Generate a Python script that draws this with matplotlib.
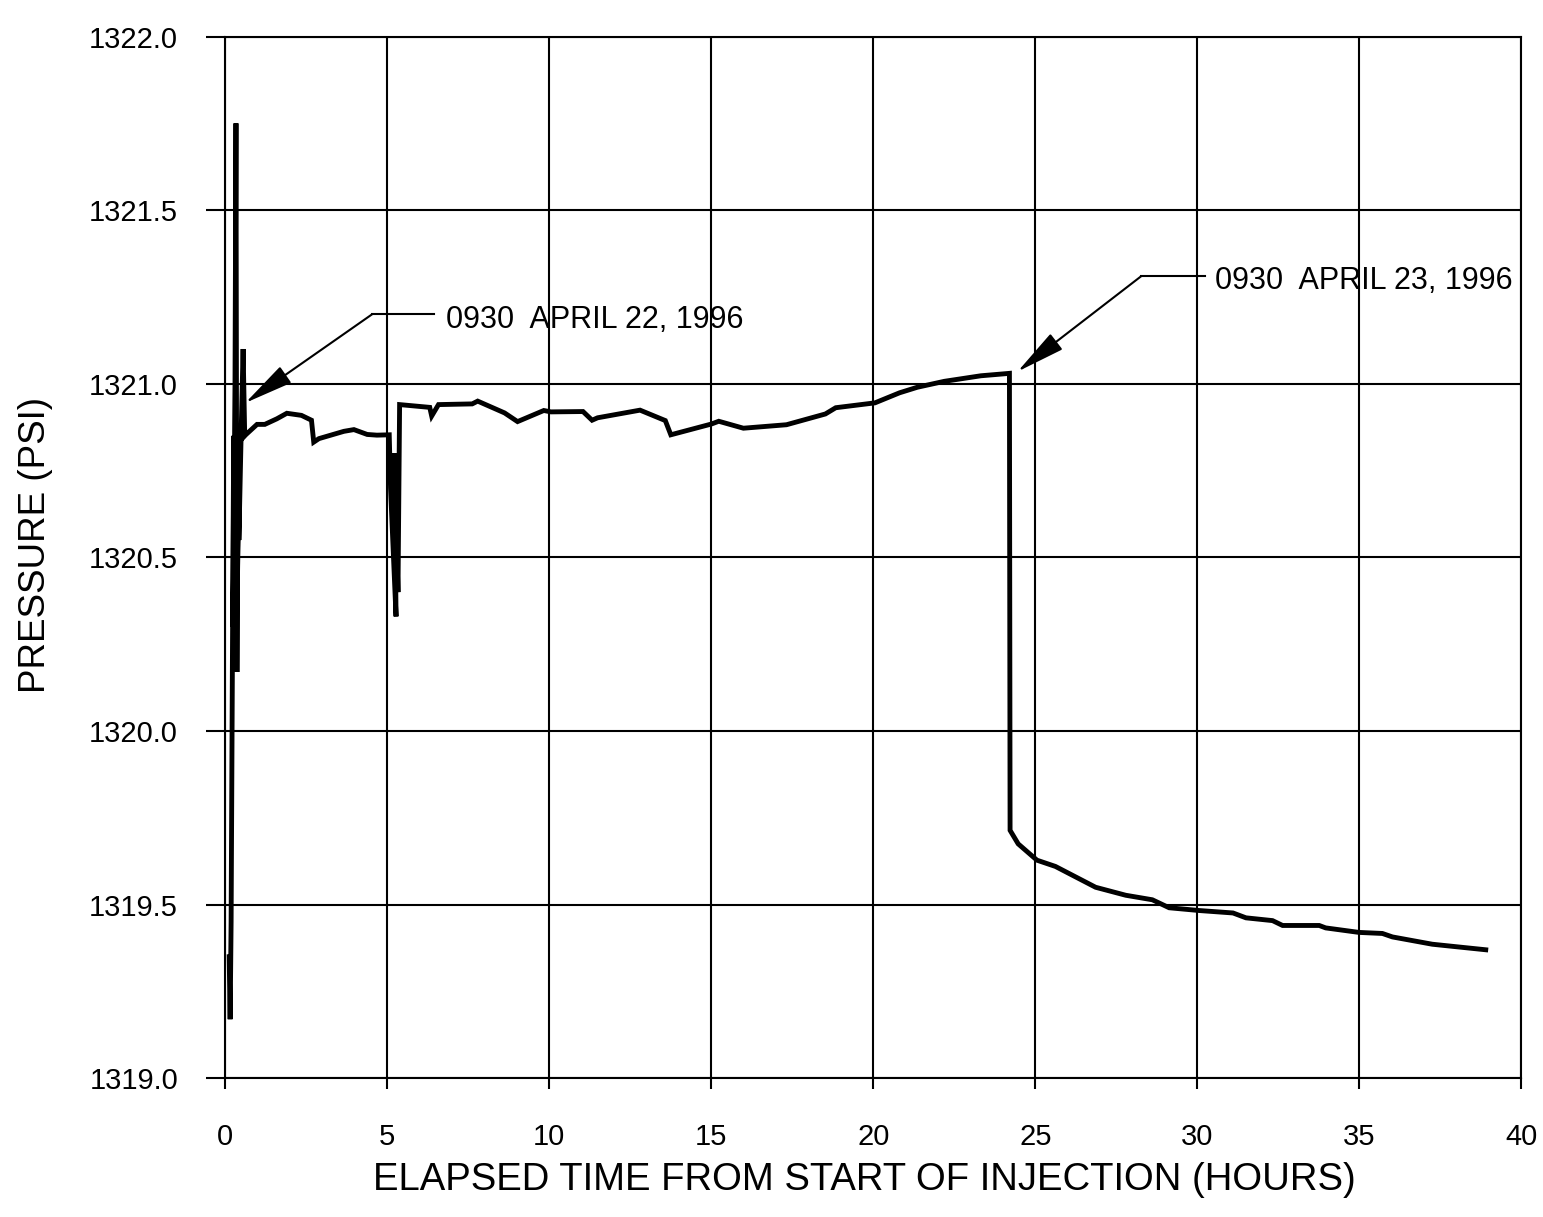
import matplotlib
matplotlib.use('agg')
import matplotlib.pyplot as plt
from matplotlib.ticker import FormatStrFormatter

# elapsed time (hours) and pressure (psi)
hours = [0.12, 0.15, 0.18, 0.22, 0.26, 0.24, 0.30, 0.33, 0.36, 0.40, 0.37, 0.44,
         0.42, 0.50, 0.55, 0.60, 0.63,
         0.98, 1.22, 1.59, 1.90, 2.35, 2.66, 2.73, 2.89, 3.66, 3.97, 4.38, 4.68,
         5.06, 5.10, 5.27, 5.22, 5.33, 5.38, 6.31, 6.37, 6.58, 7.62, 7.79, 8.62, 9.02,
         9.83, 10.05, 11.04, 11.32, 11.49, 12.80, 13.58, 13.75, 15.00, 15.23,
         15.99, 17.32, 18.52, 18.84, 20.05, 20.81, 21.36, 22.19, 23.32, 24.08,
         24.20, 24.22, 24.47, 25.05, 25.62, 26.86, 27.79, 28.61, 29.13, 30.06,
         31.10, 31.50, 32.32, 32.63, 33.76, 33.96, 34.99, 35.71, 36.02, 37.25,
         38.07, 38.90]
pressure = [1319.35, 1319.17, 1319.45, 1320.20, 1320.85, 1320.30, 1321.00, 1321.75,
            1320.17, 1320.80, 1320.40, 1320.85, 1320.55, 1320.90, 1321.10, 1320.85, 1320.853,
            1320.883, 1320.883, 1320.899, 1320.915, 1320.909, 1320.895, 1320.832,
            1320.842, 1320.863, 1320.868, 1320.854, 1320.852,
            1320.853, 1320.70, 1320.33, 1320.80, 1320.40, 1320.94, 1320.932, 1320.907,
            1320.940, 1320.942, 1320.950, 1320.916, 1320.891,
            1320.923, 1320.919, 1320.920, 1320.895, 1320.902, 1320.924, 1320.894,
            1320.853, 1320.884, 1320.892,
            1320.872, 1320.882, 1320.913, 1320.931, 1320.945, 1320.974, 1320.990,
            1321.007, 1321.023, 1321.029,
            1321.030, 1319.714, 1319.675, 1319.628, 1319.610, 1319.550, 1319.527,
            1319.514, 1319.491, 1319.483,
            1319.476, 1319.462, 1319.454, 1319.440, 1319.440, 1319.433, 1319.420,
            1319.417, 1319.407, 1319.386,
            1319.378, 1319.370]

# annotations: text, text position, elbow of leader, end of horizontal leader, arrow tip
notes = [
    ("0930  APRIL 22, 1996", (6.80, 1321.185), (4.53, 1321.20), (6.45, 1321.20), (0.62, 1320.945)),
    ("0930  APRIL 23, 1996", (30.55, 1321.295), (28.27, 1321.31), (30.25, 1321.31), (24.45, 1321.035)),
]

plt.rcParams['font.family'] = ['Liberation Sans', 'DejaVu Sans']

fig = plt.figure(figsize=(15.43, 12.17), dpi=100)
ax = fig.add_axes([0.146, 0.114, 0.840, 0.856])

ax.plot(hours, pressure, color='black', lw=3.5, solid_joinstyle='miter')

for text, tpos, elbow, hend, tip in notes:
    ax.plot([elbow[0], hend[0]], [elbow[1], hend[1]], color='black', lw=1.5)
    ax.annotate('', xy=tip, xytext=elbow,
                arrowprops=dict(arrowstyle='-|>,head_length=1.1,head_width=0.22',
                                color='black', lw=1.5, mutation_scale=28,
                                shrinkA=0, shrinkB=0))
    ax.text(tpos[0], tpos[1], text, fontsize=22, va='center', ha='left')

ax.set_xlim(0, 40)
ax.set_ylim(1319.0, 1322.0)
ax.set_xticks(range(0, 41, 5))
ax.set_yticks([1319.0, 1319.5, 1320.0, 1320.5, 1321.0, 1321.5, 1322.0])
ax.yaxis.set_major_formatter(FormatStrFormatter('%.1f'))
ax.grid(True, color='black', lw=1.5)
for s in ax.spines.values():
    s.set_linewidth(1.5)
ax.tick_params(axis='y', direction='out', length=14, width=1.5, pad=20, labelsize=21)
ax.tick_params(axis='x', direction='out', length=8, width=1.5, pad=24, labelsize=21)

ax.set_xlabel('ELAPSED TIME FROM START OF INJECTION (HOURS)', fontsize=27.5)
ax.xaxis.set_label_coords(0.493, -0.080)
ax.set_ylabel('PRESSURE (PSI)', fontsize=26.5)
ax.yaxis.set_label_coords(-0.133, 0.512)

fig.savefig('out.png', dpi=100, facecolor='white')
